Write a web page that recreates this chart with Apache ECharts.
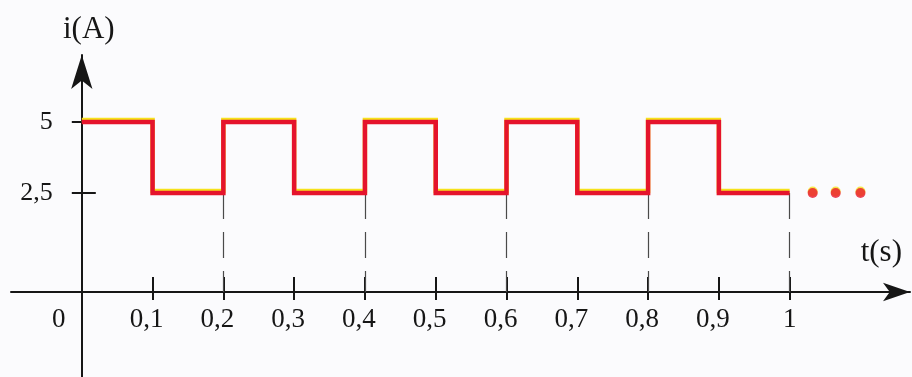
<!DOCTYPE html>
<html>
<head>
<meta charset="utf-8">
<script src="https://cdn.jsdelivr.net/npm/echarts@6/dist/echarts.min.js"></script>
<style>
  html, body { margin: 0; padding: 0; background: #fbfbfd; }
  #chart { width: 912px; height: 377px; }
</style>
</head>
<body>
<div id="chart"></div>
<script>
// ---- data ----
const tValues = [0, 0.1, 0.2, 0.3, 0.4, 0.5, 0.6, 0.7, 0.8, 0.9, 1.0];
const iValues = [5, 2.5, 5, 2.5, 5, 2.5, 5, 2.5, 5, 2.5, 2.5];
const xTickValues = [0.1, 0.2, 0.3, 0.4, 0.5, 0.6, 0.7, 0.8, 0.9, 1.0];
const xLabelValues = [0, 0.1, 0.2, 0.3, 0.4, 0.5, 0.6, 0.7, 0.8, 0.9, 1.0];
const xTickLabels = ['0', '0,1', '0,2', '0,3', '0,4', '0,5', '0,6', '0,7', '0,8', '0,9', '1'];
const yTickValues = [2.5, 5];
const yTickLabels = ['2,5', '5'];
const dashedAt = [0.2, 0.4, 0.6, 0.8, 1.0];
const dashedFrom = 2.5;
const axisCrossValue = -0.99;   // i-value where the t axis is drawn
const dotsT = [1.0325, 1.065, 1.1];
const dotsI = [2.5, 2.5, 2.5];

const SERIF = '"Liberation Serif", "DejaVu Serif", serif';
const INK = '#161616';

function xLabel(v) {
  const k = xLabelValues.findIndex(x => Math.abs(x - v) < 1e-6);
  if (k < 0) return '';
  const s = xTickLabels[k];
  if (Math.abs(v) < 1e-9) return '{z|' + s + '}';
  if (s.indexOf(',') >= 0) return '{c|' + s + '}';
  return '{n|' + s + '}';
}
function yLabel(v) {
  const k = yTickValues.findIndex(x => Math.abs(x - v) < 1e-6);
  return k < 0 ? '' : '{n|' + yTickLabels[k] + '}';
}

const chart = echarts.init(document.getElementById('chart'), null, { renderer: 'canvas' });
const xMin = -0.1, xMax = 1.17, yMin = -3.979, yMax = 7.359;

const labelRich = {
  z: { fontFamily: SERIF, fontSize: 27, color: INK, padding: [0, 46, 0, 0] },
  c: { fontFamily: SERIF, fontSize: 27, color: INK, padding: [0, 12, 0, 0] },
  n: { fontFamily: SERIF, fontSize: 27, color: INK }
};
const yRich = { n: { fontFamily: SERIF, fontSize: 26, color: INK } };

chart.setOption({
  backgroundColor: '#fbfbfd',
  animation: false,
  grid: { left: 11, right: 2, top: 55, bottom: 0, containLabel: false, outerBoundsMode: 'none' },
  xAxis: [
    {
      type: 'value', min: xMin, max: xMax, position: 'bottom', offset: -85,
      axisLine: { onZero: false, symbol: ['none', 'arrow'], symbolSize: [14, 27],
        lineStyle: { color: INK, width: 2 } },
      axisTick: { show: true, inside: false, length: 8, customValues: xTickValues,
        lineStyle: { color: INK, width: 2 } },
      axisLabel: { show: true, customValues: xLabelValues, margin: 14, formatter: xLabel, rich: labelRich },
      splitLine: { show: false },
      name: 't(s)', nameLocation: 'end', nameGap: 0,
      nameTextStyle: { fontFamily: SERIF, fontSize: 31, color: INK, align: 'right', verticalAlign: 'bottom', padding: [0, 8, 24, 0] }
    },
    {
      type: 'value', min: xMin, max: xMax, position: 'bottom', offset: -85,
      axisLine: { show: false, onZero: false },
      axisTick: { show: true, inside: true, length: 15, customValues: xTickValues,
        lineStyle: { color: INK, width: 2 } },
      axisLabel: { show: false },
      splitLine: { show: false }
    }
  ],
  yAxis: [
    {
      type: 'value', min: yMin, max: yMax, position: 'left', offset: -70.8,
      axisLine: { onZero: false, symbol: ['none', 'arrow'], symbolSize: [16, 34],
        lineStyle: { color: INK, width: 2 } },
      axisTick: { show: true, inside: false, length: 10, customValues: yTickValues,
        lineStyle: { color: INK, width: 2 } },
      axisLabel: { show: true, customValues: yTickValues, margin: 29, formatter: yLabel, rich: yRich,
        showMinLabel: true, showMaxLabel: true, hideOverlap: false },
      splitLine: { show: false },
      name: 'i(A)', nameLocation: 'end', nameGap: 10,
      nameTextStyle: { fontFamily: SERIF, fontSize: 31, color: INK, padding: [0, 0, 0, 14] }
    },
    {
      type: 'value', min: yMin, max: yMax, position: 'left', offset: -70.8,
      axisLine: { show: false, onZero: false },
      axisTick: { show: true, inside: true, length: 14, customValues: yTickValues,
        lineStyle: { color: INK, width: 2 } },
      axisLabel: { show: false },
      splitLine: { show: false }
    }
  ],
  series: [
    {
      name: 'i(t)', type: 'line', step: 'end', xAxisIndex: 0, yAxisIndex: 0,
      data: tValues.map((t, k) => [t, iValues[k]]),
      showSymbol: false, symbol: 'none', silent: true, z: 5,
      lineStyle: { color: '#e5142c', width: 4.5, join: 'miter', cap: 'butt',
        shadowColor: '#f6e21c', shadowBlur: 0, shadowOffsetY: -2 },
      markLine: {
        silent: true, symbol: ['none', 'none'], label: { show: false },
        lineStyle: { color: '#4a4a4a', width: 1.2, type: [26, 13] },
        emphasis: { disabled: true },
        data: dashedAt.map(t => [{ coord: [t, dashedFrom] }, { coord: [t, axisCrossValue] }])
      }
    },
    {
      name: 'dots', type: 'scatter', xAxisIndex: 0, yAxisIndex: 0,
      data: dotsT.map((t, k) => [t, dotsI[k]]),
      symbol: 'circle', symbolSize: 10, silent: true, z: 5,
      itemStyle: { color: '#e8162e', shadowColor: '#f6e21c', shadowBlur: 0, shadowOffsetY: -1.5 }
    }
  ]
});
</script>
</body>
</html>
